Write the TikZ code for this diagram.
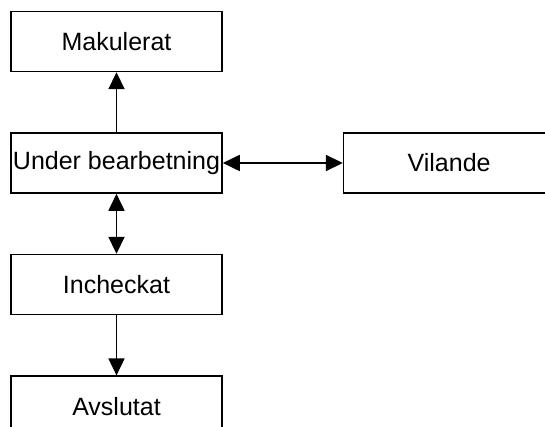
\documentclass[tikz,border=0pt]{standalone}
\usepackage{fontspec}
\setmainfont{Liberation Sans}
\usetikzlibrary{arrows.meta,positioning}

\begin{document}
\begin{tikzpicture}
              [x=1pt,y=-1pt,node distance=60pt and 120pt,
                every node/.style={rectangle,draw,line width=1.6pt,inner sep=1pt,
                  font=\fontsize{25}{29}\selectfont,minimum width=211pt,minimum height=60pt},
                oneway/.style={line width=1.8pt,-{Triangle[length=17pt,width=16pt]}},
                twoway/.style={line width=1.8pt,{Triangle[length=17pt,width=16pt]}-{Triangle[length=17pt,width=16pt]}}]
              \path[use as bounding box,clip] (0,0) rectangle (545,427);
              \node (n0) at (116.5,163) {Under bearbetning};
              \node (n1) [above=of n0] {Makulerat};
              \node (n2) [right=of n0] {Vilande};
              \node (n3) [below=of n0] {Incheckat};
              \node (n4) [below=of n3] {Avslutat};
              \draw[oneway] (n0) -- (n1);
              \draw[oneway] (n3) -- (n4);
              \foreach \from/\to in {n0/n2,n0/n3}
              \draw[twoway] (\from) -- (\to);
            \end{tikzpicture}
\end{document}
